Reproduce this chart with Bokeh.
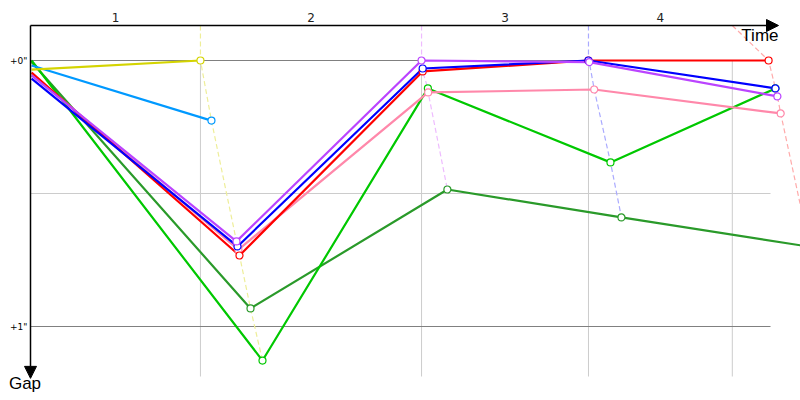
from bokeh.plotting import figure
from bokeh.models import Range1d, Arrow, NormalHead
from bokeh.core.properties import value
from bokeh.embed import file_html
from bokeh.resources import INLINE

# ---- data (time in s along x, gap to leader in s) ----
names = ["dkgreen", "lgreen", "cyan", "yellow", "pink", "red", "blue", "purple"]
colors = {"dkgreen": "#2a9a2a", "lgreen": "#00c800", "cyan": "#0099ff", "yellow": "#d4d400",
          "pink": "#ff88aa", "red": "#ff0000", "blue": "#0000ff", "purple": "#bb44ff"}
times = {
    "dkgreen": [0.02, 4.00, 7.58, 10.745, 14.16],
    "lgreen":  [0.02, 4.218, 7.225, 10.545, 13.545],
    "cyan":    [0.02, 3.29],
    "yellow":  [0.02, 3.09],
    "pink":    [0.02, 3.78, 7.23, 10.25, 13.64],
    "red":     [0.02, 3.80, 7.13, 10.145, 13.42],
    "blue":    [0.02, 3.764, 7.13, 10.145, 13.545],
    "purple":  [0.02, 3.745, 7.11, 10.16, 13.58],
}
gaps = {
    "dkgreen": [0.006, 0.932, 0.485, 0.590, 0.700],
    "lgreen":  [0.000, 1.128, 0.105, 0.383, 0.105],
    "cyan":    [0.019, 0.226],
    "yellow":  [0.034, 0.000],
    "pink":    [0.049, 0.711, 0.120, 0.109, 0.199],
    "red":     [0.045, 0.733, 0.041, 0.000, 0.000],
    "blue":    [0.068, 0.699, 0.030, 0.000, 0.105],
    "purple":  [0.056, 0.680, 0.000, 0.006, 0.135],
}
lap_labels = ["1", "2", "3", "4"]
lap_ref = [3.09, 7.11, 10.145, 12.76]
lap_colors = ["#eeee99", "#eebbff", "#aaaaff", "#ffaaaa"]
gap_ticks = [0, 1]
gap_tick_labels = ['+0"', '+1"']
gap_minor = [0.5]

G_TOP = -0.1316
T_END = 13.455
G_BOTTOM = 1.188

p = figure(width=800, height=400, x_range=Range1d(-0.5455, 14.0), y_range=Range1d(1.2782, -0.2256),
           min_border=0, toolbar_location=None, output_backend="svg",
           x_axis_location=None, y_axis_location=None)
p.grid.visible = False
p.outline_line_color = None
p.background_fill_color = "white"
p.border_fill_color = "white"

# grid lines
for g in gap_minor:
    p.line([0, T_END], [g, g], line_color="#cccccc", line_width=1)
for lr in lap_ref:
    p.line([lr, lr], [0, G_BOTTOM], line_color="#cccccc", line_width=1)
for g in gap_ticks:
    p.line([0, T_END], [g, g], line_color="#808080", line_width=1)

# lap lines (dashed)
for k, lr in enumerate(lap_ref):
    pts = []
    for n in names:
        if len(times[n]) > k + 1:
            pts.append((gaps[n][k + 1], times[n][k + 1]))
    pts.sort()
    xs = [lr] + [t for g, t in pts]
    ys = [G_TOP] + [g for g, t in pts]
    p.line(xs, ys, line_color=lap_colors[k], line_width=1.2, line_dash="5 3")

# series
for n in names:
    p.line(times[n], gaps[n], line_color=colors[n], line_width=2.2)
for n in names:
    p.scatter(times[n][1:], gaps[n][1:], marker="circle", size=7, fill_color="white",
              line_color=colors[n], line_width=1.2)

# axes as arrows
p.add_layout(Arrow(x_start=0, y_start=G_TOP, x_end=13.6, y_end=G_TOP, line_color="black", line_width=1.5,
                   end=NormalHead(size=12, fill_color="black", line_color="black")))
p.add_layout(Arrow(x_start=0, y_start=G_TOP, x_end=0, y_end=1.195, line_color="black", line_width=1.5,
                   end=NormalHead(size=12, fill_color="black", line_color="black")))

# lap labels
bounds = [0] + lap_ref
mids = [(bounds[i] + bounds[i + 1]) / 2 for i in range(len(lap_ref))]
p.text(mids, [-0.163] * len(mids), text=lap_labels, text_font=value("DejaVu Sans"),
       text_font_size="12px", text_align="center", text_baseline="middle", text_color="#222222")

# gap tick labels
p.text([-0.055] * len(gap_ticks), gap_ticks, text=gap_tick_labels, text_font=value("DejaVu Sans"),
       text_font_size="9px", text_align="right", text_baseline="middle", text_color="black")

p.text([13.6], [-0.13], text=["Time"], text_font=value("Liberation Sans"), text_font_size="17px",
       text_align="right", text_baseline="top", text_color="black")
p.text([-0.1], [1.18], text=["Gap"], text_font=value("Liberation Sans"), text_font_size="17px",
       text_align="center", text_baseline="top", text_color="black")

open("out.html", "w").write(file_html(p, INLINE))
